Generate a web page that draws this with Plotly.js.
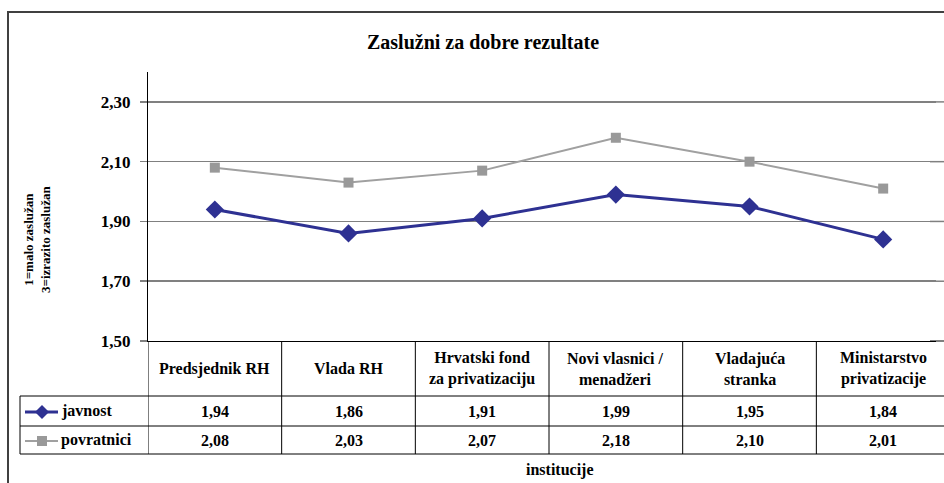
<!DOCTYPE html>
<html>
<head>
<meta charset="utf-8">
<script src="https://cdn.plot.ly/plotly-3.0.1.min.js"></script>
<style>html,body{margin:0;padding:0;background:#fff;overflow:hidden;}#chart{width:944px;height:483px;}</style>
</head>
<body>
<div id="chart"></div>
<script>
const categories = ['Predsjednik RH', 'Vlada RH', 'Hrvatski fond<br>za privatizaciju', 'Novi vlasnici /<br>menadžeri', 'Vladajuća<br>stranka', 'Ministarstvo<br>privatizacije'];
const seriesNames = ['javnost', 'povratnici'];
const javnost = [1.94, 1.86, 1.91, 1.99, 1.95, 1.84];
const povratnici = [2.08, 2.03, 2.07, 2.18, 2.10, 2.01];
const yTickVals = [1.5, 1.7, 1.9, 2.1, 2.3];
const yTickText = ['1,50', '1,70', '1,90', '2,10', '2,30'];

const W = 944, H = 483;
const L = 148, T = 72, PB = 341, R = 944;
const pw = R - L, ph = PB - T;
const px = v => (v - L) / pw;
const py = v => (PB - v) / ph;
const FONT = 'Liberation Serif';
const BLUE = '#2E3192', GRAY = '#a0a0a0', GRAYM = '#999999';
const fmt = v => v.toFixed(2).replace('.', ',');
const idx = categories.map((c, i) => i);

const traces = [
  {x: idx, y: javnost, name: seriesNames[0], type: 'scatter', mode: 'lines+markers',
   line: {color: BLUE, width: 3}, marker: {symbol: 'diamond', size: 14, color: BLUE}},
  {x: idx, y: povratnici, name: seriesNames[1], type: 'scatter', mode: 'lines+markers',
   line: {color: GRAY, width: 2}, marker: {symbol: 'square', size: 10, color: GRAYM}}
];

const shapes = [];
const annotations = [];
const lineBlack = {color: '#000', width: 1};
// mask the right edge strip, then redraw the segments that cross it
shapes.push({type: 'rect', xref: 'paper', yref: 'paper', x0: px(936), x1: px(950), y0: py(0), y1: py(490), fillcolor: '#ffffff', line: {width: 0}});
yTickVals.slice(1).forEach(v => shapes.push({type: 'line', xref: 'paper', yref: 'y', x0: px(930), x1: px(950), y0: v, y1: v, line: {color: '#808080', width: 1.5}}));
shapes.push({type: 'line', xref: 'paper', yref: 'paper', x0: px(930), x1: px(950), y0: 0, y1: 0, line: lineBlack});
[396, 426, 454].forEach(yy => shapes.push({type: 'line', xref: 'paper', yref: 'paper', x0: px(20), x1: px(950), y0: py(yy), y1: py(yy), line: lineBlack}));
shapes.push({type: 'line', xref: 'paper', yref: 'paper', x0: px(20), x1: px(20), y0: py(396), y1: py(454), line: lineBlack});
for (let i = 0; i < categories.length; i++) {
  shapes.push({type: 'line', xref: 'x', yref: 'paper', x0: i - 0.5, x1: i - 0.5, y0: 0, y1: py(454), line: lineBlack});
}
shapes.push({type: 'line', xref: 'paper', yref: 'paper', x0: px(25), x1: px(58), y0: py(412), y1: py(412), line: {color: BLUE, width: 3}});
const dx = 7 / pw, dy = 7 / ph, cx = px(42), cy = py(412);
shapes.push({type: 'path', xref: 'paper', yref: 'paper', path: `M ${cx - dx} ${cy} L ${cx} ${cy + dy} L ${cx + dx} ${cy} L ${cx} ${cy - dy} Z`, fillcolor: BLUE, line: {color: BLUE, width: 0}});
shapes.push({type: 'line', xref: 'paper', yref: 'paper', x0: px(25), x1: px(58), y0: py(441), y1: py(441), line: {color: GRAY, width: 2}});
shapes.push({type: 'rect', xref: 'paper', yref: 'paper', x0: px(37), x1: px(47), y0: py(436), y1: py(446), fillcolor: GRAYM, line: {width: 0}});
// outer frame: left and top edges
shapes.push({type: 'path', xref: 'paper', yref: 'paper', path: `M ${px(8)} ${py(483)} L ${px(8)} ${py(12)} L ${px(950)} ${py(12)}`, fillcolor: 'rgba(0,0,0,0)', line: {color: '#404040', width: 2}});

const tf = {family: FONT, size: 16, color: '#000', weight: 'bold'};
categories.forEach((c, i) => {
  annotations.push({xref: 'x', yref: 'paper', x: i, y: py(368.5), text: c, showarrow: false, xanchor: 'center', yanchor: 'middle', font: tf});
  annotations.push({xref: 'x', yref: 'paper', x: i, y: py(411), text: fmt(javnost[i]), showarrow: false, xanchor: 'center', yanchor: 'middle', font: tf});
  annotations.push({xref: 'x', yref: 'paper', x: i, y: py(440), text: fmt(povratnici[i]), showarrow: false, xanchor: 'center', yanchor: 'middle', font: tf});
});
annotations.push({xref: 'paper', yref: 'paper', x: px(59), y: py(411), text: seriesNames[0], showarrow: false, xanchor: 'left', yanchor: 'middle', font: tf});
annotations.push({xref: 'paper', yref: 'paper', x: px(59), y: py(440), text: seriesNames[1], showarrow: false, xanchor: 'left', yanchor: 'middle', font: tf});
annotations.push({xref: 'paper', yref: 'paper', x: px(560), y: py(470), text: 'institucije', showarrow: false, xanchor: 'center', yanchor: 'middle', font: tf});
annotations.push({xref: 'paper', yref: 'paper', x: px(37), y: py(240), text: '1=malo zaslužan<br>3=izrazito zaslužan', textangle: -90, showarrow: false, xanchor: 'center', yanchor: 'middle', font: {family: FONT, size: 13, color: '#000', weight: 'bold'}});

const layout = {
  width: W, height: H,
  margin: {l: L, r: W - R, t: T, b: H - PB, pad: 0},
  paper_bgcolor: '#fff', plot_bgcolor: '#fff',
  font: {family: FONT, color: '#000'},
  showlegend: false,
  title: {text: 'Zaslužni za dobre rezultate', x: 483 / W, xanchor: 'center', xref: 'container', y: 1 - 42 / H, yanchor: 'middle', yref: 'container', font: {family: FONT, size: 20, color: '#000', weight: 'bold'}},
  xaxis: {type: 'linear', range: [-0.5, 5.455], showgrid: false, zeroline: false, showticklabels: false, ticks: '', showline: true, linecolor: '#000', linewidth: 1, fixedrange: true},
  yaxis: {range: [1.5, 2.4], tickvals: yTickVals, ticktext: yTickText, showgrid: true, gridcolor: '#808080', gridwidth: 1.5, zeroline: false, showline: true, linecolor: '#000', linewidth: 1, ticks: 'outside', ticklen: 7, tickcolor: '#808080', tickwidth: 1.5, tickfont: {family: FONT, size: 17, color: '#000', weight: 'bold'}, ticklabelstandoff: 6, fixedrange: true},
  shapes: shapes,
  annotations: annotations
};

Plotly.newPlot('chart', traces, layout, {displayModeBar: false, staticPlot: true});
</script>
</body>
</html>
